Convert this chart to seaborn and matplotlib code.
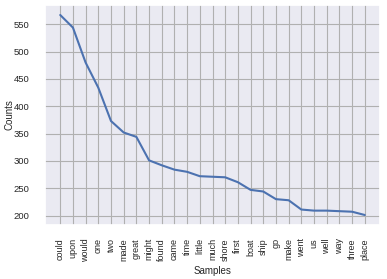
import matplotlib
matplotlib.use("Agg")
import matplotlib.pyplot as plt
import seaborn as sns
import pandas as pd

samples = ["could", "upon", "would", "one", "two", "made", "great", "might", "found",
           "came", "time", "little", "much", "shore", "first", "boat", "ship", "go",
           "make", "went", "us", "well", "way", "three", "place"]
counts = [567, 544, 480, 434, 373, 352, 344, 301, 292, 284, 280, 272, 271, 270,
          261, 247, 244, 230, 228, 211, 209, 209, 208, 207, 201]

sns.set_theme(style="darkgrid")
plt.rcParams['font.family'] = ['Liberation Sans', 'DejaVu Sans']

df = pd.DataFrame({"Samples": samples, "Counts": counts})
fig = plt.figure(figsize=(3.87, 2.79), dpi=100)
ax = fig.add_axes([45/387, 1 - 225/279, (380-45)/387, (225-5)/279])
sns.lineplot(data=df, x="Samples", y="Counts", ax=ax, linewidth=1.5, sort=False)
ax.tick_params(axis='x', labelrotation=90, labelsize=6.5, pad=3.5)
ax.tick_params(axis='y', labelsize=6.8, pad=5)
ax.set_xlabel("Samples", fontsize=7, labelpad=3)
ax.set_ylabel("Counts", fontsize=7)
ax.yaxis.set_label_coords(-0.09, 0.5)
ax.grid(True, color="#b0b0b0", linewidth=0.8)
fig.savefig("out.png", dpi=100)
